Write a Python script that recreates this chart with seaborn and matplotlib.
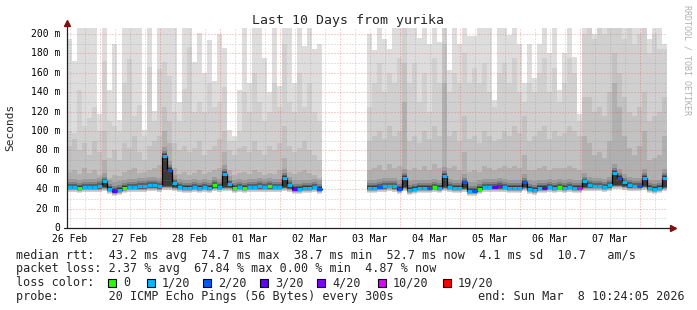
import numpy as np
import pandas as pd
import matplotlib
matplotlib.use("Agg")
import matplotlib.pyplot as plt
import seaborn as sns
from matplotlib.patches import Rectangle

# ------------------------------------------------------------------ data
BIN_H = 2            # hours per consolidated bin
SEG1_START_H = 0     # hours from left edge of plot
SEG2_START_H = 120

seg1_median = [42, 42, 41, 42, 42, 42, 43, 48, 40, 38,
               39, 41, 42, 42, 43, 43, 44, 44, 43, 74,
               60, 46, 42, 41, 41, 42, 41, 42, 41, 44,
               42, 56, 45, 41, 42, 41, 42, 42, 43, 42,
               43, 42, 42, 52, 44, 40, 40, 41, 41, 42,
               40]
seg1_low = [37, 37, 36, 37, 37, 37, 37, 38, 35, 33,
            34, 36, 37, 37, 37, 37, 38, 38, 37, 39,
            39, 38, 37, 36, 36, 37, 36, 37, 36, 38,
            37, 38, 38, 36, 37, 36, 37, 37, 37, 37,
            37, 37, 37, 38, 37, 35, 35, 36, 36, 37,
            35]
seg1_p4 = [58, 60, 56, 62, 57, 60, 55, 70, 52, 55,
           54, 58, 60, 62, 57, 58, 60, 62, 65, 100,
           88, 62, 56, 58, 55, 57, 60, 56, 58, 60,
           62, 78, 60, 55, 57, 58, 56, 60, 58, 55,
           57, 56, 60, 72, 58, 56, 58, 60, 57, 55,
           52]
seg1_p3 = [85, 92, 80, 88, 75, 90, 78, 100, 72, 80,
           70, 88, 82, 95, 78, 70, 85, 90, 95, 125,
           110, 88, 80, 85, 78, 82, 90, 75, 80, 85,
           92, 100, 80, 75, 82, 85, 78, 90, 80, 75,
           85, 80, 88, 105, 85, 78, 82, 90, 80, 75,
           70]
seg1_p2 = [100, 98, 142, 105, 113, 125, 100, 172, 110, 105,
           100, 150, 174, 115, 127, 95, 166, 110, 164, 171,
           157, 120, 110, 143, 187, 120, 130, 120, 150, 125,
           130, 145, 90, 90, 100, 140, 120, 160, 130, 110,
           120, 150, 125, 190, 130, 120, 160, 125, 150, 120,
           110]
seg1_top = [195, 172, 206, 206, 206, 206, 118, 206, 142, 190,
            111, 206, 206, 206, 206, 101, 206, 121, 206, 206,
            206, 206, 130, 206, 206, 171, 201, 160, 194, 152,
            200, 186, 101, 95, 142, 206, 150, 206, 206, 175,
            140, 206, 146, 206, 206, 150, 206, 188, 206, 185,
            190]
seg1_loss = [1, 1, 0, 1, 1, 1, 1, 1, 1, 3,
             1, 0, 1, 1, 1, 1, 1, 1, 1, 1,
             2, 1, 1, 1, 1, 1, 1, 1, 1, 0,
             1, 1, 1, 0, 1, 0, 1, 1, 1, 1,
             0, 1, 1, 1, 1, 3, 1, 1, 1, 1,
             2]

seg2_median = [41, 41, 42, 43, 43, 43, 40, 52, 39, 40,
               41, 41, 41, 42, 41, 54, 42, 41, 41, 47,
               38, 38, 40, 42, 42, 42, 43, 42, 41, 41,
               41, 47, 40, 39, 41, 41, 42, 41, 42, 41,
               42, 41, 41, 48, 44, 43, 43, 42, 44, 57,
               52, 47, 44, 43, 43, 52, 41, 40, 41, 52]
seg2_low = [36, 36, 37, 37, 38, 37, 35, 38, 34, 35,
            36, 36, 36, 37, 36, 38, 37, 36, 36, 37,
            33, 33, 35, 37, 37, 37, 37, 37, 36, 36,
            36, 38, 35, 34, 36, 36, 37, 36, 37, 36,
            37, 36, 36, 38, 38, 38, 38, 37, 38, 40,
            40, 39, 38, 38, 38, 39, 36, 35, 36, 38]
seg2_p4 = [60, 62, 65, 60, 66, 62, 64, 130, 60, 62,
           60, 64, 60, 66, 62, 150, 62, 64, 60, 78,
           58, 60, 58, 64, 62, 60, 62, 64, 62, 64,
           62, 75, 60, 60, 62, 64, 60, 62, 62, 62,
           64, 62, 60, 95, 88, 75, 78, 72, 90, 150,
           125, 95, 82, 75, 85, 100, 70, 72, 75, 95]
seg2_p3 = [90, 95, 100, 92, 105, 95, 100, 170, 90, 95,
           88, 100, 92, 105, 95, 190, 95, 100, 90, 115,
           92, 95, 88, 100, 95, 90, 92, 100, 95, 105,
           98, 115, 90, 95, 100, 105, 92, 100, 95, 98,
           105, 100, 95, 135, 135, 120, 125, 115, 140, 180,
           160, 135, 120, 115, 125, 140, 110, 115, 120, 135]
seg2_p2 = [125, 150, 170, 140, 160, 150, 175, 206, 150, 170,
           130, 160, 120, 175, 150, 206, 140, 160, 150, 180,
           150, 165, 150, 170, 140, 125, 160, 170, 150, 175,
           140, 130, 150, 140, 160, 175, 140, 165, 130, 150,
           175, 160, 110, 200, 206, 195, 206, 200, 206, 206,
           206, 195, 206, 190, 200, 206, 180, 200, 185, 185]
seg2_top = [200, 183, 206, 195, 185, 206, 206, 206, 206, 206,
            196, 206, 190, 206, 192, 206, 163, 206, 190, 206,
            198, 198, 206, 206, 206, 132, 206, 206, 199, 206,
            190, 150, 190, 155, 190, 206, 180, 206, 142, 180,
            206, 176, 118, 206, 206, 200, 206, 206, 206, 206,
            206, 206, 206, 206, 206, 206, 195, 206, 206, 190]
seg2_loss = [1, 1, 2, 1, 1, 1, 2, 1, 1, 1,
             1, 1, 2, 0, 1, 1, 1, 1, 1, 2,
             1, 2, 0, 1, 1, 3, 4, 1, 1, 1,
             1, 2, 1, 1, 1, 3, 1, 1, 0, 1,
             1, 1, 5, 1, 1, 1, 1, 1, 1, 1,
             2, 1, 1, 1, 2, 1, 1, 1, 1, 1]

day_labels = ["26 Feb", "27 Feb", "28 Feb", "01 Mar", "02 Mar",
              "03 Mar", "04 Mar", "05 Mar", "06 Mar", "07 Mar"]
y_ticks = [0, 20, 40, 60, 80, 100, 120, 140, 160, 180, 200]
y_labels = ["0", "20 m", "40 m", "60 m", "80 m", "100 m", "120 m",
            "140 m", "160 m", "180 m", "200 m"]
loss_labels = ["0", "1/20", "2/20", "3/20", "4/20", "10/20", "19/20"]
loss_colors = ["#26ff00", "#00b8ff", "#0059ff", "#5e00ff",
               "#7e00ff", "#dd00ff", "#ff0000"]

title = "Last 10 Days from yurika"
legend_lines = [
    "median rtt:  43.2 ms avg  74.7 ms max  38.7 ms min  52.7 ms now  4.1 ms sd  10.7   am/s",
    "packet loss: 2.37 % avg  67.84 % max 0.00 % min  4.87 % now",
]
probe_text = "probe:       20 ICMP Echo Pings (56 Bytes) every 300s"
end_text = "end: Sun Mar  8 10:24:05 2026"

# ------------------------------------------------------------------ style
sns.set_theme(style="white")
plt.rcParams["font.family"] = ["DejaVu Sans Mono"]

W, H = 697, 310
fig = plt.figure(figsize=(W / 100, H / 100), dpi=100)
fig.patch.set_facecolor("white")
PX_PER_MS = 0.97
YMAX = 200 / PX_PER_MS
ax = fig.add_axes([67 / W, (H - 228) / H, 600 / W, 200 / H])
ax.set_facecolor("white")
ax.set_xlim(0, 240)
ax.set_ylim(0, YMAX)
for s in ax.spines.values():
    s.set_visible(False)

segments = [
    (SEG1_START_H, seg1_median, seg1_low, seg1_p4, seg1_p3, seg1_p2, seg1_top, seg1_loss),
    (SEG2_START_H, seg2_median, seg2_low, seg2_p4, seg2_p3, seg2_p2, seg2_top, seg2_loss),
]

rows = []
for si, (start, med, low, p4, p3, p2, top, loss) in enumerate(segments):
    med = np.asarray(med, float)
    low = np.asarray(low, float)
    edges = start + BIN_H * np.arange(len(med) + 1)
    # smoke: nested bands, darker towards the median
    bands = [(np.asarray(top, float), low, "#dddddd"),
             (np.asarray(p2, float), low + 0.6, "#d0d0d0"),
             (np.asarray(p3, float), low + 1.2, "#c2c2c2"),
             (np.asarray(p4, float), low + 1.8, "#b0b0b0"),
             (np.minimum(med + 9, np.asarray(p4, float)), low + 2.4, "#9c9c9c"),
             (med + 5, low + 3.0, "#828282"),
             (med + 3, low + 3.6, "#5e5e5e"),
             (med + 1.8, low + 4.2, "#3a3a3a")]
    for hi, lo, c in bands:
        ax.stairs(hi, edges, baseline=lo, fill=True, color=c, lw=0, zorder=1)
    for i, m in enumerate(med):
        rows.append({"hour": edges[i], "rtt": m, "seg": si})
        rows.append({"hour": edges[i + 1], "rtt": m, "seg": si})
    ax.hlines(med, edges[:-1], edges[1:], colors=[loss_colors[c] for c in loss],
              lw=2.2, zorder=6, capstyle="butt")

df = pd.DataFrame(rows)
sns.lineplot(data=df, x="hour", y="rtt", units="seg", estimator=None, sort=False,
             color="black", lw=0.9, ax=ax, zorder=5, legend=False)
ax.set_xlabel("")
ax.set_ylabel("")
ax.set_xticks([])
ax.set_yticks([])

# grid (rrdtool style, drawn over the smoke)
minor_c = (0.55, 0.55, 0.55, 0.45)
major_c = (0.87, 0.31, 0.31, 0.5)
dots = (0, (1, 2))
for h in np.arange(1.2, 240, 6):
    is_major = abs(((h - 13.2) / 24) - round((h - 13.2) / 24)) < 1e-6
    ax.axvline(h, color=major_c if is_major else minor_c, lw=0.72,
               ls=dots, zorder=3)
for v in range(10, 206, 10):
    ax.axhline(v, color=major_c if v % 20 == 0 else minor_c, lw=0.72,
               ls=dots, zorder=3)

# axes with arrows
axis_c = "#202020"
arrow_c = "#801010"
ax.plot([0, 0], [0, (228 - 25) / PX_PER_MS], color=axis_c, lw=0.9,
        clip_on=False, zorder=7)
ax.plot([-1.2, 242], [0, 0], color=axis_c, lw=0.9, clip_on=False, zorder=7)
ax.plot([0], [(228 - 23) / PX_PER_MS], marker="^", color=arrow_c, ms=4,
        clip_on=False, zorder=8)
ax.plot([242.3], [0], marker=">", color=arrow_c, ms=4, clip_on=False, zorder=8)

# tick labels
for k, lab in enumerate(day_labels):
    ax.text(1.2 + 24 * k, -(241.5 - 228) / 200, lab, transform=ax.get_xaxis_transform(),
            ha="center", va="baseline", fontsize=7, color="black")
for v, lab in zip(y_ticks, y_labels):
    ax.text(-7 / 600, v, lab, transform=ax.get_yaxis_transform(),
            ha="right", va="center", fontsize=7, color="black")

# titles
fig.text(348.5 / W, 1 - 24 / H, title, ha="center", va="baseline", fontsize=9.5)
fig.text(10.5 / W, 1 - 127 / H, "Seconds", rotation=90, ha="center", va="center",
         fontsize=8)
fig.text(687.5 / W, 1 - 60 / H, "RRDTOOL / TOBI OETIKER", rotation=270,
         ha="center", va="center", fontsize=6, color="#b0b0b0")

# legend text
LFS = 8.5
fig.text(16 / W, 1 - 258.5 / H, legend_lines[0], ha="left", va="baseline", fontsize=LFS)
fig.text(16 / W, 1 - 272.3 / H, legend_lines[1], ha="left", va="baseline", fontsize=LFS)
fig.text(16 / W, 1 - 286.2 / H, "loss color:", ha="left", va="baseline", fontsize=LFS)
sq_x = [108, 147, 203, 260, 317, 378, 443]
for x0, c, lab in zip(sq_x, loss_colors, loss_labels):
    fig.patches.append(Rectangle((x0 / W, 1 - 287 / H), 8 / W, 8 / H,
                                 transform=fig.transFigure, facecolor=c,
                                 edgecolor="black", lw=0.8))
    fig.text((x0 + 15) / W, 1 - 286.2 / H, lab, ha="left", va="baseline", fontsize=LFS)
fig.text(16 / W, 1 - 300 / H, probe_text, ha="left", va="baseline", fontsize=LFS)
fig.text(478 / W, 1 - 300 / H, end_text, ha="left", va="baseline", fontsize=LFS)

fig.savefig("out.png", dpi=100, facecolor="white")
